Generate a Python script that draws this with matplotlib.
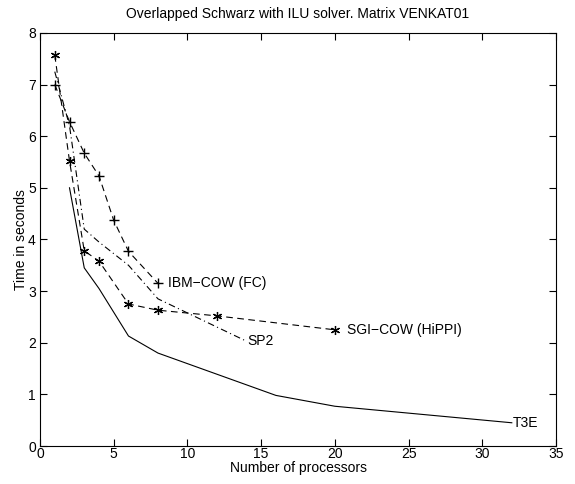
import matplotlib
matplotlib.use('Agg')
import matplotlib.pyplot as plt

plt.rcParams['font.family'] = ['Liberation Sans', 'DejaVu Sans']

# data
ibm_x = [1, 2, 3, 4, 5, 6, 8]
ibm_y = [7.0, 6.28, 5.67, 5.23, 4.37, 3.77, 3.15]

sgi_x = [1, 2, 3, 4, 6, 8, 12, 20]
sgi_y = [7.57, 5.52, 3.78, 3.58, 2.75, 2.63, 2.52, 2.25]

sp2_x = [1, 2, 3, 4, 6, 8, 14]
sp2_y = [7.25, 6.2, 4.2, 3.95, 3.5, 2.85, 2.03]

t3e_x = [2, 3, 4, 6, 8, 16, 20, 32]
t3e_y = [5.0, 3.45, 3.05, 2.13, 1.8, 0.98, 0.77, 0.45]

asterisk = (6, 2, 0)

fig = plt.figure(figsize=(5.75, 4.84), dpi=100)
ax = fig.add_axes([0.0696, 0.0785, 0.8974, 0.8535])

lw = 0.8
ax.plot(ibm_x, ibm_y, color='k', lw=lw, ls=(0, (6, 4)), marker='+', ms=7, mew=1.0)
ax.plot(sgi_x, sgi_y, color='k', lw=lw, ls=(0, (6, 4)), marker=asterisk, ms=6.5, mew=0.9)
ax.plot(sp2_x, sp2_y, color='k', lw=lw, ls=(0, (6, 3, 1, 3)))
ax.plot(t3e_x, t3e_y, color='k', lw=lw, ls='-')

fs = 10
ax.text(ibm_x[-1] + 0.65, ibm_y[-1], 'IBM\u2212COW (FC)', fontsize=fs, va='center', ha='left')
ax.text(sgi_x[-1] + 0.85, sgi_y[-1], 'SGI\u2212COW (HiPPI)', fontsize=fs, va='center', ha='left')
ax.text(sp2_x[-1] + 0.05, sp2_y[-1], 'SP2', fontsize=fs, va='center', ha='left')
ax.text(t3e_x[-1] + 0.05, t3e_y[-1], 'T3E', fontsize=fs, va='center', ha='left')

ax.set_xlim(0, 35)
ax.set_ylim(0, 8)
ax.set_xticks(range(0, 36, 5))
ax.set_yticks(range(0, 9))
ax.tick_params(direction='in', top=True, right=True, length=5, width=0.8, labelsize=fs)
ax.tick_params(axis='x', pad=1)
ax.tick_params(axis='y', pad=3)
for s in ax.spines.values():
    s.set_linewidth(0.8)

ax.set_xlabel('Number of processors', fontsize=fs, labelpad=0)
ax.set_ylabel('Time in seconds', fontsize=fs, labelpad=0)
ax.set_title('Overlapped Schwarz with ILU solver. Matrix VENKAT01', fontsize=fs, pad=11)

fig.savefig('out.png', dpi=100)
